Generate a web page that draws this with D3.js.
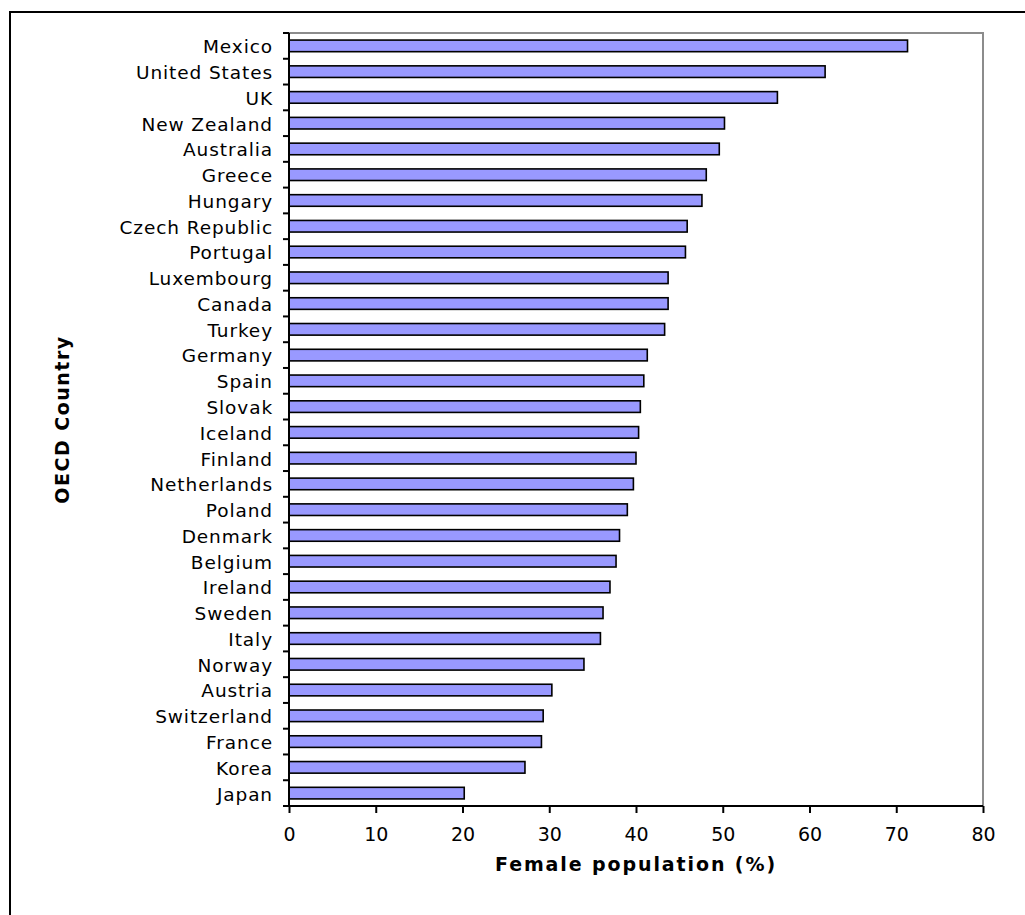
<!DOCTYPE html>
<html>
<head>
<meta charset="utf-8">
<script src="https://cdn.jsdelivr.net/npm/d3@7"></script>
<style>
  html, body { margin: 0; padding: 0; background: #fff; }
  svg { display: block; }
  text { font-family: "DejaVu Sans", Verdana, sans-serif; fill: #000; }
</style>
</head>
<body>
<svg id="chart" width="1025" height="915"></svg>
<script>
const countries = ["Mexico","United States","UK","New Zealand","Australia","Greece","Hungary","Czech Republic","Portugal","Luxembourg","Canada","Turkey","Germany","Spain","Slovak","Iceland","Finland","Netherlands","Poland","Denmark","Belgium","Ireland","Sweden","Italy","Norway","Austria","Switzerland","France","Korea","Japan"];
const femalePct = [71.3,61.8,56.3,50.2,49.6,48.1,47.6,45.9,45.7,43.7,43.7,43.3,41.3,40.9,40.5,40.3,40.0,39.7,39.0,38.1,37.7,37.0,36.2,35.9,34.0,30.3,29.3,29.1,27.2,20.2];
const xTicks = [0,10,20,30,40,50,60,70,80];
const xTitle = "Female population (%)";
const yTitle = "OECD Country";

const svg = d3.select("#chart");
const pLeft = 289, pRight = 983, pTop = 33, pBottom = 806;

// outer chart frame
svg.append("rect").attr("x", 10).attr("y", 12).attr("width", 1030).attr("height", 920)
  .attr("fill", "none").attr("stroke", "#000").attr("stroke-width", 2);

const x = d3.scaleLinear().domain([0, 80]).range([pLeft, pRight]);
const y = d3.scaleBand().domain(countries).range([pTop, pBottom]).paddingInner(0.55).paddingOuter(0.275);
const yb = d3.scaleBand().domain(countries).range([pTop, pBottom]);

// plot area border (top/right gray)
svg.append("path")
  .attr("d", `M${pLeft},${pTop}H${pRight}V${pBottom}`)
  .attr("fill", "none").attr("stroke", "#8c8c8c").attr("stroke-width", 2);

// bars
svg.append("g").selectAll("rect").data(countries).join("rect")
  .attr("x", x(0))
  .attr("y", d => y(d))
  .attr("width", (d, i) => x(femalePct[i]) - x(0))
  .attr("height", y.bandwidth())
  .attr("fill", "#9999ff")
  .attr("stroke", "#000")
  .attr("stroke-width", 1.6);

// y axis: line with ticks at band boundaries
const yAxisG = svg.append("g");
yAxisG.append("line").attr("x1", pLeft).attr("x2", pLeft).attr("y1", pTop).attr("y2", pBottom)
  .attr("stroke", "#000").attr("stroke-width", 2);
const boundaries = countries.map(c => yb(c)).concat([pBottom]);
yAxisG.selectAll("line.tk").data(boundaries).join("line").attr("class", "tk")
  .attr("x1", pLeft - 6).attr("x2", pLeft).attr("y1", d => d).attr("y2", d => d)
  .attr("stroke", "#000").attr("stroke-width", 2);
yAxisG.selectAll("text").data(countries).join("text")
  .attr("x", pLeft - 16)
  .attr("y", d => yb(d) + yb.bandwidth() / 2)
  .attr("dy", "0.4em")
  .attr("text-anchor", "end")
  .style("font-size", "18.5px")
  .style("letter-spacing", "0.9px")
  .text(d => d);

// x axis
const xAxis = d3.axisBottom(x).tickValues(xTicks).tickSize(7).tickPadding(15).tickFormat(d3.format("d"));
const xg = svg.append("g").attr("transform", `translate(0,${pBottom})`).call(xAxis);
xg.select(".domain").attr("stroke", "#000").attr("stroke-width", 2).attr("d", `M${pLeft},0H${pRight}`);
xg.selectAll(".tick line").attr("stroke", "#000").attr("stroke-width", 2);
xg.selectAll(".tick text").style("font-size", "19px").style("font-family", "DejaVu Sans, Verdana, sans-serif").attr("fill", "#000");

// axis titles
svg.append("text")
  .attr("x", (pLeft + pRight) / 2).attr("y", 871)
  .attr("text-anchor", "middle")
  .style("font-size", "19px").style("font-weight", "bold")
  .style("letter-spacing", "1.9px")
  .text(xTitle);

svg.append("text")
  .attr("transform", `translate(69,${(pTop + pBottom) / 2}) rotate(-90)`)
  .attr("text-anchor", "middle")
  .style("font-size", "19px").style("font-weight", "bold")
  .style("letter-spacing", "1.5px")
  .text(yTitle);
</script>
</body>
</html>
